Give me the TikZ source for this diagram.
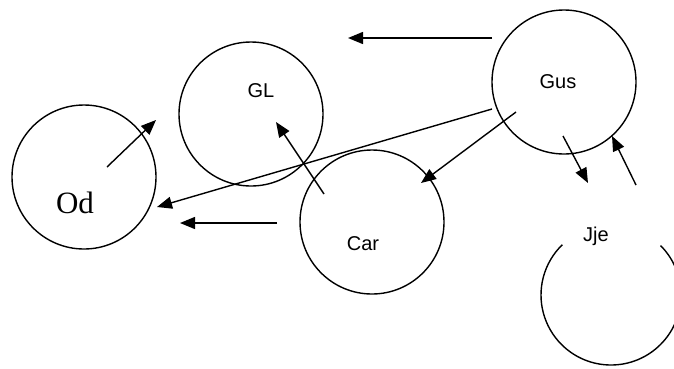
\documentclass[tikz,border=0pt]{standalone}
\usepackage{fontspec}
\setmainfont{Liberation Serif}
\setsansfont{Liberation Sans}
\usetikzlibrary{arrows.meta}
\begin{document}
\begin{tikzpicture}[x=1pt,y=-1pt,
  ring/.style={circle,draw,line width=1.4pt,minimum size=144pt,inner sep=0pt},
  sanslabel/.style={font=\sffamily\fontsize{20}{24}\selectfont,inner sep=0pt},
  seriflabel/.style={font=\rmfamily\fontsize{31}{36}\selectfont,inner sep=0pt},
  arr/.style={line width=1.4pt,-{Triangle[length=15pt,width=12pt]}}]
\clip (0,0) rectangle (674,368);
% circles
\node[ring] (od) at (84,177) {};
\node[ring] (gl) at (251,114) {};
\node[ring] (car) at (372,222) {};
\node[ring] (gus) at (564,82) {};
\coordinate (jjec) at (611,295);
\draw[line width=1.4pt] (jjec) ++(-45:70) arc[start angle=-45,end angle=226,radius=70];
% labels
\node[seriflabel] (odt) at (75,203) {Od};
\node[sanslabel] (glt) at (261,91) {GL};
\node[sanslabel] (gust) at (558,82) {Gus};
\node[sanslabel] (cart) at (363,244) {Car};
\node[sanslabel] (jjet) at (596,236) {Jje};
% arrow endpoints
\coordinate (a1s) at (492,38);  \coordinate (a1e) at (348,38);
\coordinate (a2s) at (107,167); \coordinate (a2e) at (156,120);
\coordinate (a3s) at (324,194); \coordinate (a3e) at (276,122);
\coordinate (a4s) at (492,109); \coordinate (a4e) at (157,207);
\coordinate (a5s) at (277,223); \coordinate (a5e) at (180,223);
\coordinate (a6s) at (516,112); \coordinate (a6e) at (421,183);
\coordinate (a7s) at (563,136); \coordinate (a7e) at (588,183);
\coordinate (a8s) at (636,185); \coordinate (a8e) at (612,136);
\draw[arr] (a1s) -- (a1e);
\draw[arr] (a2s) -- (a2e);
\draw[arr] (a3s) -- (a3e);
\draw[arr] (a4s) -- (a4e);
\draw[arr] (a5s) -- (a5e);
\draw[arr] (a6s) -- (a6e);
\draw[arr] (a7s) -- (a7e);
\draw[arr] (a8s) -- (a8e);
\end{tikzpicture}
\end{document}
